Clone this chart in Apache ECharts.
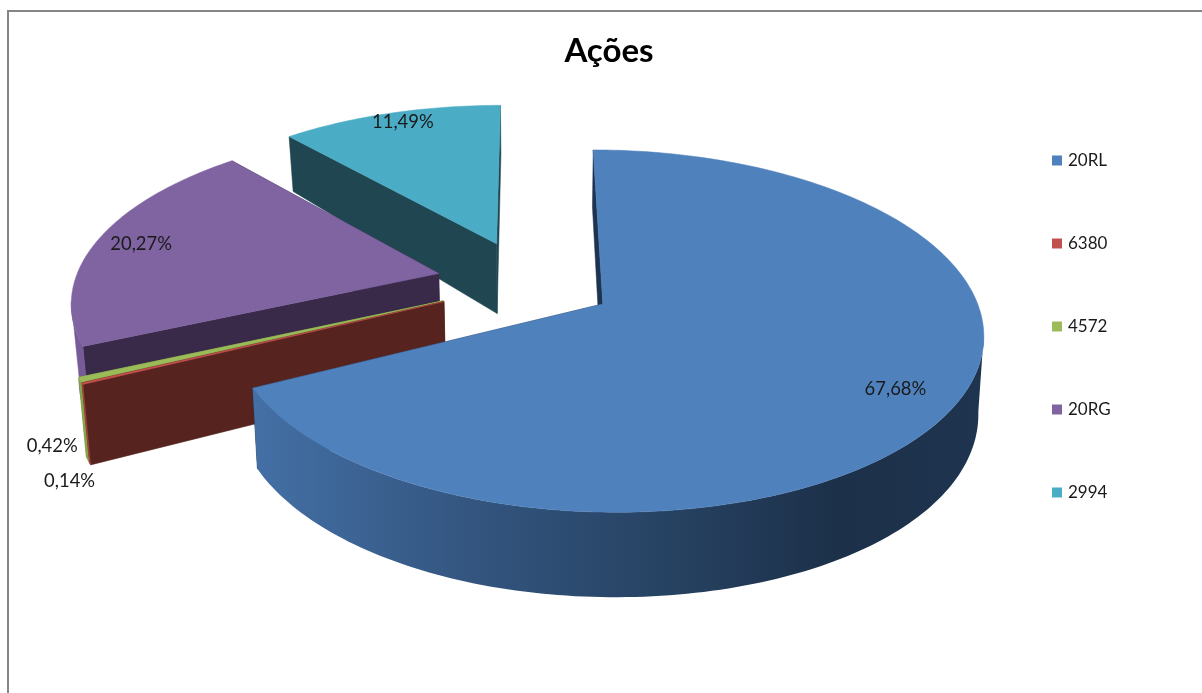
<!DOCTYPE html>
<html><head><meta charset="utf-8">
<style>html,body{margin:0;padding:0;background:#fff}#c{width:1202px;height:693px}</style>
<script src="https://cdn.jsdelivr.net/npm/echarts@6/dist/echarts.min.js"></script>
</head><body><div id="c"></div>
<script>
const categories = ['20RL','6380','4572','20RG','2994'];
const values = [67.68,0.14,0.42,20.27,11.49];
const title = 'Ações';
const topColors = ['#4f81bd','#c0504d','#9bbb59','#8064a2','#4bacc6'];
const wallColors = ['#1e3350','#57231f','#6d8a3a','#3a2a4a','#1f4651'];
const rimColors = [null,'#a84440','#86a54a','#775a98','#45a0b8'];
const blueRim = [[0,'#4470a6'],[0.3,'#33557f'],[0.6,'#25405f'],[0.8,'#1c3049'],[1,'#1f344f']];
const labelRadius = [0.85,1,1,0.8,0.87];
const labelNudge = [[-3,0],[-9,97],[-24,66],[-21,-2],[1,-5]];
const explode = [0.235,0.25,0.25,0.25,0.25];
const sliceRadius = [1,0.99,0.99,0.99,0.99];
const leftScale = [0.988,1,1,1,1];
const paintOrder = [4,3,2,1,0];

// view model: exploded disc seen in perspective, top plane + depth
const X0=528, Y0=282.4, A=368, B=170.7, P=0.147;
function proj(u,v){const s=1/(1+P*v);return [X0+A*u*s, Y0-B*v*s];}
function depth(v){return 73.5-14.97*v-4.23*v*v;}
function projLow(u,v){const p=proj(u,v),k=p[0]>X0?0.988:0.983;return [X0+(p[0]-X0)*k,p[1]+depth(v)];}
const total=values.reduce((a,b)=>a+b,0);
const starts=[];values.reduce((acc,x,i)=>{starts[i]=acc;return acc+x;},0);
const rad=x=>x/total*2*Math.PI;

function renderSlice(i,api){
  const value=api.value(0);
  const a0=rad(starts[i]), a1=a0+rad(value), mid=(a0+a1)/2;
  const e=explode[i], R=sliceRadius[i];
  const cu=e*Math.sin(mid), cv=e*Math.cos(mid);
  const ax=proj(cu,cv)[0];
  const squeeze=p=>p[0]<ax?[ax+(p[0]-ax)*leftScale[i],p[1]]:p;
  const hi=w=>squeeze(proj(w[0],w[1]));
  const lo=w=>squeeze(projLow(w[0],w[1]));
  const n=Math.max(2,Math.ceil((a1-a0)/0.02));
  const arc=[], front=[];
  for(let k=0;k<=n;k++){
    const t=a0+(a1-a0)*k/n, w=[cu+R*Math.sin(t),cv+R*Math.cos(t)];
    arc.push(w);
    if(Math.cos(t)<-0.15) front.push(w);
  }
  const c=[cu,cv];
  const top=[hi(c)].concat(arc.map(hi));
  const rim=front.map(hi).concat(front.slice().reverse().map(lo));
  const wall=w=>[hi(c),hi(w),lo(w),lo(c)];
  const poly=(points,fill)=>({type:'polygon',shape:{points},style:{fill,stroke:typeof fill==='string'?fill:null,lineWidth:0.5},silent:true});
  const rimFill=rimColors[i]||new echarts.graphic.LinearGradient(0,0,1,0,blueRim.map(s=>({offset:s[0],color:s[1]})));
  const children=[
    poly(wall(arc[arc.length-1]),wallColors[i]),
    poly(wall(arc[0]),wallColors[i])
  ];
  if(front.length>1) children.push(poly(rim,rimFill));
  children.push(poly(top,topColors[i]));
  const lr=labelRadius[i];
  const lp=proj(cu+lr*Math.sin(mid),cv+lr*Math.cos(mid));
  children.push({type:'text',silent:true,z2:100,style:{
    x:lp[0]+labelNudge[i][0],y:lp[1]+labelNudge[i][1],
    text:value.toFixed(2).replace('.',',')+'%',
    font:'18.4px Lato',fill:'#1a1a1a',textAlign:'center',textVerticalAlign:'middle'}});
  return {type:'group',children};
}

const chart=echarts.init(document.getElementById('c'),null,{renderer:'canvas'});
chart.setOption({
  animation:false,
  backgroundColor:'#fff',
  title:{text:title,left:604,top:30,textAlign:'center',textStyle:{fontFamily:'Lato',fontWeight:'bold',fontSize:33,color:'#000'}},
  legend:{orient:'vertical',left:1047,top:147,data:categories,icon:'rect',itemWidth:10,itemHeight:10,itemGap:66,
    textStyle:{fontFamily:'Lato',fontSize:17,color:'#1a1a1a',padding:[0,0,0,1]},selectedMode:false},
  graphic:[
    {type:'line',shape:{x1:8,y1:11,x2:8,y2:693},style:{stroke:'#868686',lineWidth:2},silent:true},
    {type:'line',shape:{x1:7,y1:11,x2:1202,y2:11},style:{stroke:'#868686',lineWidth:2},silent:true}
  ],
  series:paintOrder.map(i=>({
    type:'custom',name:categories[i],coordinateSystem:'none',
    itemStyle:{color:topColors[i]},
    data:[[values[i]]],
    renderItem:(p,api)=>renderSlice(i,api)
  }))
});
</script></body></html>
